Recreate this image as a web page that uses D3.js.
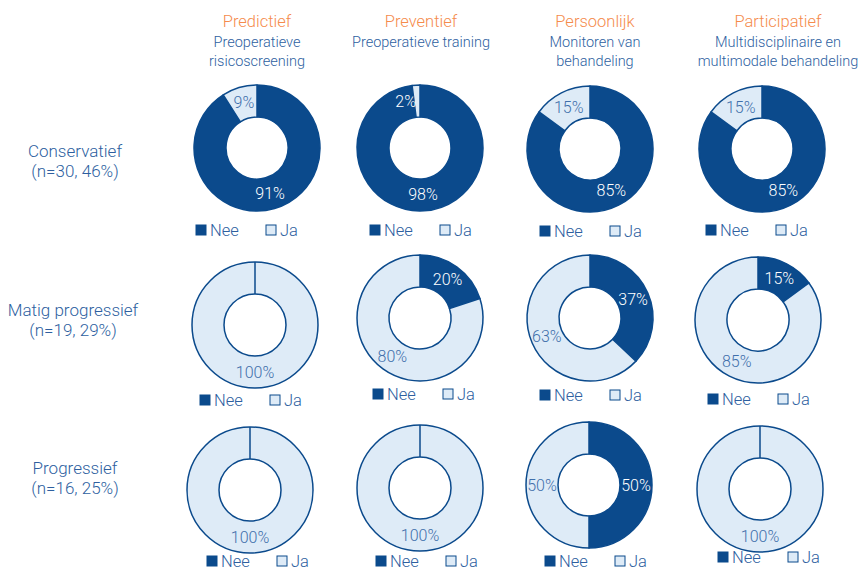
<!DOCTYPE html>
<html><head><meta charset="utf-8">
<script src="https://cdn.jsdelivr.net/npm/d3@7"></script>
<style>body{margin:0;background:#fff}svg{display:block;font-family:Roboto,"Liberation Sans",Arial,sans-serif;font-weight:300}</style>
</head><body>
<svg id="chart" width="863" height="571"></svg>
<script>
// ---- data ----
const categories = ["Conservatief", "Matig progressief", "Progressief"];
const categoryN = ["(n=30, 46%)", "(n=19, 29%)", "(n=16, 25%)"];
const dimensions = ["Predictief", "Preventief", "Persoonlijk", "Participatief"];
const dimensionDesc = [["Preoperatieve", "risicoscreening"], ["Preoperatieve training"], ["Monitoren van", "behandeling"], ["Multidisciplinaire en", "multimodale behandeling"]];
const seriesNames = ["Nee", "Ja"];
const neeValues = [[91, 98, 85, 85], [0, 20, 37, 15], [0, 0, 50, 0]];
const jaValues = [[9, 2, 15, 15], [100, 80, 63, 85], [100, 100, 50, 100]];

// ---- layout (not data) ----
const colHeaderX = [257, 421, 595, 778];
const rowLabel = [{x: 75, y: 157}, {x: 73, y: 316}, {x: 75, y: 474}];
const donutCenters = [
  [[257,148],[420,148],[590,149],[762,149]],
  [[255,325],[420,318],[590,318],[758,320]],
  [[250,490],[420,488],[589,485],[760,489]]
];
const legendPos = [
  [[196,230],[370,230],[540,231],[706,230]],
  [[200,400],[373,394],[540,395],[708,399]],
  [[207,561],[376,561],[545,561],[718,557]]
];
const outerR = 63, innerR = 31;
const dark = "#0b4a8c", light = "#deebf7", textBlue = "#2e5f9f", orange = "#f58b4c";

const svg = d3.select("#chart");

dimensions.forEach((d, i) => {
  svg.append("text").attr("x", colHeaderX[i]).attr("y", 27).attr("text-anchor", "middle")
    .attr("fill", orange).attr("font-size", 16.5).text(d);
  dimensionDesc[i].forEach((line, j) => {
    svg.append("text").attr("x", colHeaderX[i]).attr("y", 47 + j * 19).attr("text-anchor", "middle")
      .attr("fill", textBlue).attr("font-size", 14.5).text(line);
  });
});

categories.forEach((c, r) => {
  svg.append("text").attr("x", rowLabel[r].x).attr("y", rowLabel[r].y).attr("text-anchor", "middle")
    .attr("fill", textBlue).attr("font-size", 17).text(c);
  svg.append("text").attr("x", rowLabel[r].x).attr("y", rowLabel[r].y + 20).attr("text-anchor", "middle")
    .attr("fill", textBlue).attr("font-size", 17).text(categoryN[r]);
});

const color = d3.scaleOrdinal().domain(seriesNames).range([dark, light]);
const labelColor = d3.scaleOrdinal().domain(seriesNames).range(["#ffffff", "#3f6fab"]);
const pie = d3.pie().sort(null).value(d => d.value);
const arc = d3.arc().innerRadius(innerR).outerRadius(outerR);
const labelArc = d3.arc().innerRadius((innerR + outerR) / 2).outerRadius((innerR + outerR) / 2);

categories.forEach((c, r) => {
  dimensions.forEach((dim, k) => {
    const vals = [{name: "Nee", value: neeValues[r][k]}, {name: "Ja", value: jaValues[r][k]}];
    const [cx, cy] = donutCenters[r][k];
    const g = svg.append("g").attr("transform", `translate(${cx},${cy})`);
    const arcs = pie(vals);
    g.selectAll("path").data(arcs.filter(a => a.data.value > 0)).join("path")
      .attr("d", arc).attr("fill", a => color(a.data.name))
      .attr("stroke", dark).attr("stroke-width", 1.5).attr("stroke-linejoin", "round");
    if (arcs.some(a => a.data.value === 0)) {
      g.append("line").attr("x1", 0).attr("y1", -innerR).attr("x2", 0).attr("y2", -outerR)
        .attr("stroke", dark).attr("stroke-width", 1.5);
    }
    arcs.filter(a => a.data.value > 0).forEach(a => {
      const [lx, ly] = labelArc.centroid(a);
      const small = a.data.value < 5;
      g.append("text").attr("x", small ? lx - 1 : lx).attr("y", ly + 5.5)
        .attr("text-anchor", small ? "end" : "middle")
        .attr("font-size", 16).attr("fill", small ? "#ffffff" : labelColor(a.data.name))
        .text(a.data.value + "%");
    });
    const [lx, ly] = legendPos[r][k];
    const lg = svg.append("g").attr("transform", `translate(${lx},${ly})`);
    seriesNames.forEach((s, si) => {
      const ox = si * 70;
      lg.append("rect").attr("x", ox).attr("y", -5).attr("width", 10).attr("height", 10)
        .attr("fill", color(s)).attr("stroke", dark).attr("stroke-width", 1);
      lg.append("text").attr("x", ox + 14).attr("y", 6).attr("font-size", 16.5)
        .attr("fill", textBlue).text(s);
    });
  });
});
</script>
</body></html>
